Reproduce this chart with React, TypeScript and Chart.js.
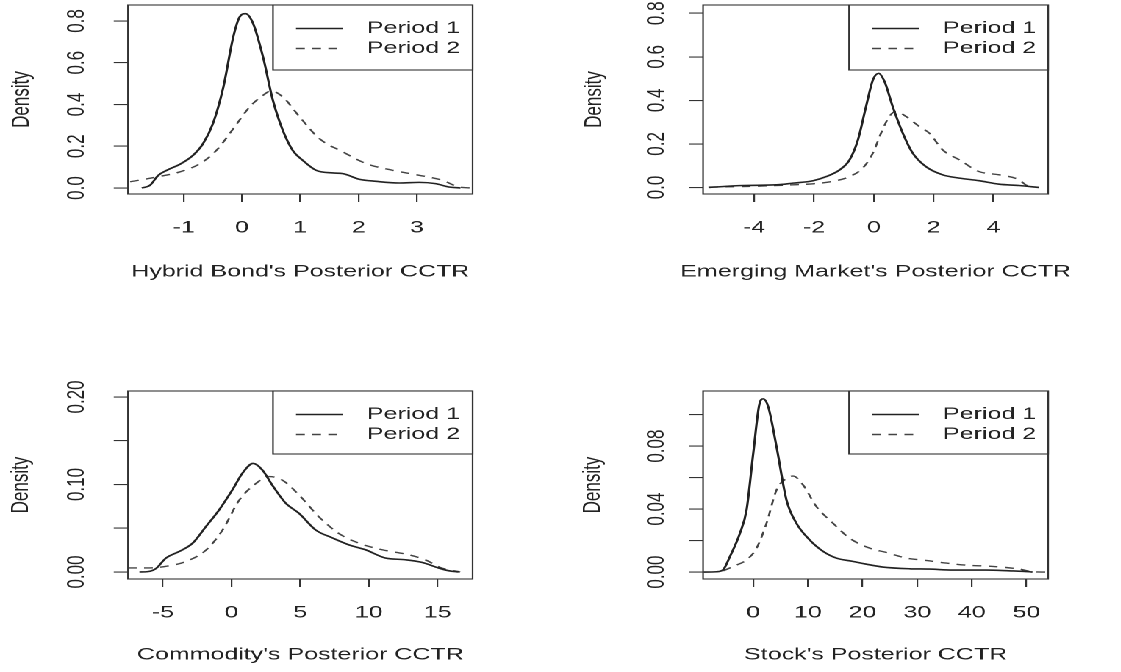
import React, { useEffect, useRef } from 'react';
import { Chart, registerables } from 'chart.js';

Chart.register(...registerables);

// ---------- data ----------
const legendLabels = ['Period 1', 'Period 2'];
const yTitle = 'Density';

const hybridTitle = "Hybrid Bond's Posterior CCTR";
const hybridTicksX = [-1, 0, 1, 2, 3];
const hybridTicksY = [0, 0.2, 0.4, 0.6, 0.8];
const hybridLabelsY = ['0.0', '0.2', '0.4', '0.6', '0.8'];
const hybridP1 = [
  [-1.72, 0], [-1.58, 0.013], [-1.44, 0.06], [-1.29, 0.085], [-1.07, 0.113], [-0.84, 0.157],
  [-0.67, 0.212], [-0.5, 0.308], [-0.32, 0.484], [-0.15, 0.724], [-0.04, 0.82], [0.06, 0.835],
  [0.19, 0.788], [0.36, 0.628], [0.53, 0.42], [0.7, 0.276], [0.87, 0.18], [1.04, 0.133],
  [1.27, 0.085], [1.56, 0.072], [1.73, 0.069], [2.01, 0.042], [2.3, 0.032], [2.7, 0.024],
  [3.04, 0.027], [3.32, 0.021], [3.55, 0.005], [3.75, 0],
];
const hybridP2 = [
  [-1.92, 0.03], [-1.46, 0.053], [-1.07, 0.077], [-0.72, 0.117], [-0.44, 0.18], [-0.15, 0.284],
  [0.13, 0.388], [0.36, 0.444], [0.5, 0.465], [0.7, 0.436], [0.99, 0.34], [1.33, 0.236],
  [1.73, 0.173], [2.13, 0.117], [2.58, 0.085], [3.04, 0.061], [3.44, 0.037], [3.72, 0.005],
  [3.95, 0],
];

const emergingTitle = "Emerging Market's Posterior CCTR";
const emergingTicksX = [-4, -2, 0, 2, 4];
const emergingTicksY = [0, 0.2, 0.4, 0.6, 0.8];
const emergingLabelsY = ['0.0', '0.2', '0.4', '0.6', '0.8'];
const emergingP1 = [
  [-5.53, 0], [-4.37, 0.009], [-3.26, 0.012], [-2.7, 0.02], [-2.03, 0.031], [-1.59, 0.05],
  [-1.14, 0.081], [-0.81, 0.127], [-0.53, 0.219], [-0.26, 0.372], [-0.03, 0.494], [0.16, 0.524],
  [0.36, 0.486], [0.63, 0.372], [0.97, 0.249], [1.3, 0.158], [1.74, 0.096], [2.3, 0.058],
  [2.86, 0.043], [3.52, 0.031], [4.19, 0.015], [4.86, 0.009], [5.52, 0],
];
const emergingP2 = [
  [-5.5, 0.002], [-4.2, 0.005], [-2.7, 0.012], [-2.03, 0.017], [-1.37, 0.028], [-0.81, 0.05],
  [-0.37, 0.089], [-0.03, 0.158], [0.24, 0.249], [0.52, 0.326], [0.74, 0.349], [1.08, 0.326],
  [1.52, 0.28], [1.86, 0.249], [2.3, 0.173], [2.86, 0.127], [3.52, 0.073], [4.19, 0.058],
  [4.86, 0.035], [5.08, 0.012], [5.3, 0],
];

const commodityTitle = "Commodity's Posterior CCTR";
const commodityTicksX = [-5, 0, 5, 10, 15];
const commodityTicksY = [0, 0.05, 0.1, 0.15, 0.2];
const commodityLabelsY = ['0.00', '', '0.10', '', '0.20'];
const commodityP1 = [
  [-6.71, 0], [-6.1, 0.0004], [-5.5, 0.004], [-4.77, 0.016], [-3.8, 0.0235], [-2.83, 0.033],
  [-1.86, 0.052], [-0.9, 0.071], [0.07, 0.094], [0.8, 0.113], [1.57, 0.124], [2.25, 0.1165],
  [2.98, 0.099], [3.95, 0.0786], [4.92, 0.067], [6.13, 0.048], [7.34, 0.039], [8.55, 0.031],
  [9.76, 0.0254], [11.2, 0.016], [12.66, 0.014], [13.87, 0.011], [15.08, 0.0046], [15.8, 0.0015],
  [16.54, 0],
];
const commodityP2 = [
  [-7.55, 0.0046], [-6.22, 0.0046], [-4.77, 0.0065], [-3.32, 0.012], [-1.86, 0.025], [-0.65, 0.048],
  [0.56, 0.082], [1.77, 0.101], [2.74, 0.109], [3.7, 0.105], [4.92, 0.088], [6.37, 0.063],
  [7.82, 0.044], [9.27, 0.033], [10.97, 0.0254], [12.9, 0.0197], [14.1, 0.014], [15.3, 0.0046],
  [16.66, 0],
];

const stockTitle = "Stock's Posterior CCTR";
const stockTicksX = [0, 10, 20, 30, 40, 50];
const stockTicksY = [0, 0.02, 0.04, 0.06, 0.08, 0.1];
const stockLabelsY = ['0.00', '', '0.04', '', '0.08', ''];
const stockP1 = [
  [-9.1, 0], [-6.7, 0.0002], [-5.5, 0.0015], [-4.26, 0.0099], [-2.43, 0.0247], [-1.22, 0.0395],
  [0, 0.0754], [1.09, 0.106], [1.82, 0.11], [2.74, 0.105], [4.26, 0.0796], [6.08, 0.0458],
  [7.9, 0.031], [10.3, 0.0205], [12.8, 0.0131], [15.2, 0.0089], [18.2, 0.0068], [21.3, 0.0046],
  [23.7, 0.0032], [28.6, 0.0021], [32.2, 0.0019], [36.5, 0.0013], [42.6, 0.0013], [46.8, 0.0008],
  [50.5, 0.0002], [51.1, 0],
];
const stockP2 = [
  [-5.5, 0.0008], [-3.65, 0.0036], [-1.22, 0.0078], [0.61, 0.0152], [2.43, 0.031], [4.26, 0.0521],
  [6.08, 0.0595], [7.3, 0.061], [9.12, 0.0553], [11.56, 0.0416], [14.6, 0.031], [17.64, 0.0215],
  [21.3, 0.0152], [24.3, 0.0125], [28.0, 0.0089], [31.6, 0.0074], [35.3, 0.0057], [38.9, 0.0044],
  [43.8, 0.0036], [48.7, 0.0019], [51.1, 0.0002], [53.5, 0],
];

// ---------- layout (reference pixel coordinates; x is stretched by S) ----------
const S = 1.47;
const PAGE_W = 1121;
const PAGE_H = 672;
const FONT = '17px "Liberation Sans", Arial, Helvetica, sans-serif';
const INK = '#222';

type Panel = {
  key: string;
  title: string;
  ticksX: number[];
  ticksY: number[];
  labelsY: string[];
  p1: number[][];
  p2: number[][];
  xRange: [number, number];
  yRange: [number, number];
  canvas: [number, number, number, number];
  box: [number, number, number, number];
  tickLabelY: number;
  titleY: number;
  yLabelX: number;
  yTitleX: number;
  legendLeft: number;
  legendBottom: number;
};

const panels: Panel[] = [
  {
    key: 'hybrid', title: hybridTitle, ticksX: hybridTicksX, ticksY: hybridTicksY, labelsY: hybridLabelsY,
    p1: hybridP1, p2: hybridP2, xRange: [-1.957, 3.957], yRange: [-0.0287, 0.8766],
    canvas: [0, 0, 560, 340], box: [128, 5, 474, 194], tickLabelY: 228, titleY: 272,
    yLabelX: 77, yTitleX: 22, legendLeft: 273, legendBottom: 70,
  },
  {
    key: 'emerging', title: emergingTitle, ticksX: emergingTicksX, ticksY: emergingTicksY, labelsY: emergingLabelsY,
    p1: emergingP1, p2: emergingP2, xRange: [-5.71, 5.83], yRange: [-0.03, 0.838],
    canvas: [560, 0, 1121, 340], box: [703, 5, 1049, 194], tickLabelY: 228, titleY: 272,
    yLabelX: 657, yTitleX: 594, legendLeft: 849, legendBottom: 70,
  },
  {
    key: 'commodity', title: commodityTitle, ticksX: commodityTicksX, ticksY: commodityTicksY, labelsY: commodityLabelsY,
    p1: commodityP1, p2: commodityP2, xRange: [-7.54, 17.56], yRange: [-0.008, 0.2068],
    canvas: [0, 340, 560, 672], box: [128, 391, 474, 579], tickLabelY: 613, titleY: 655,
    yLabelX: 77, yTitleX: 21, legendLeft: 273, legendBottom: 454,
  },
  {
    key: 'stock', title: stockTitle, ticksX: stockTicksX, ticksY: stockTicksY, labelsY: stockLabelsY,
    p1: stockP1, p2: stockP2, xRange: [-9.18, 53.96], yRange: [-0.0044, 0.115],
    canvas: [560, 340, 1121, 672], box: [703, 391, 1049, 579], tickLabelY: 613, titleY: 655,
    yLabelX: 657, yTitleX: 593, legendLeft: 849, legendBottom: 454,
  },
];

function makePlugin(p: Panel) {
  const [cx0, cy0] = p.canvas;
  const X = (rx: number) => (rx - cx0) / S;
  const Y = (ry: number) => ry - cy0;
  return {
    id: 'rstyle_' + p.key,
    afterDraw(chart: any) {
      const { ctx, chartArea: a, scales } = chart;
      const xs = scales.x;
      const ys = scales.y;
      ctx.save();
      // plot box
      ctx.strokeStyle = '#333';
      ctx.lineWidth = 1.1;
      ctx.strokeRect(a.left, a.top, a.right - a.left, a.bottom - a.top);

      ctx.fillStyle = INK;
      ctx.font = FONT;
      // x tick labels
      ctx.textAlign = 'center';
      ctx.textBaseline = 'middle';
      p.ticksX.forEach((v) => {
        ctx.fillText(String(v), xs.getPixelForValue(v), Y(p.tickLabelY));
      });
      // x title
      ctx.fillText(p.title, (a.left + a.right) / 2, Y(p.titleY));

      // y tick labels (rotated)
      p.ticksY.forEach((v, i) => {
        const lab = p.labelsY[i];
        if (!lab) return;
        ctx.save();
        ctx.translate(X(p.yLabelX), ys.getPixelForValue(v));
        ctx.rotate(-Math.PI / 2);
        ctx.fillText(lab, 0, 0);
        ctx.restore();
      });
      // y title
      ctx.save();
      ctx.translate(X(p.yTitleX), (a.top + a.bottom) / 2);
      ctx.rotate(-Math.PI / 2);
      ctx.fillText(yTitle, 0, 0);
      ctx.restore();

      // legend
      const lx0 = X(p.legendLeft);
      const ly0 = a.top;
      const ly1 = Y(p.legendBottom);
      ctx.fillStyle = '#fff';
      ctx.fillRect(lx0, ly0, a.right - lx0, ly1 - ly0);
      ctx.strokeStyle = '#333';
      ctx.lineWidth = 1.1;
      ctx.strokeRect(lx0, ly0, a.right - lx0, ly1 - ly0);
      const rowY = [ly0 + 23.5, ly0 + 43.5];
      const sx0 = lx0 + 23 / S;
      const sx1 = lx0 + 70 / S;
      const tx = lx0 + 94 / S;
      ctx.textAlign = 'left';
      ctx.fillStyle = INK;
      legendLabels.forEach((lab, i) => {
        ctx.beginPath();
        ctx.strokeStyle = i === 0 ? '#222' : '#444';
        ctx.lineWidth = 1.5;
        ctx.setLineDash(i === 0 ? [] : [6, 5]);
        ctx.moveTo(sx0, rowY[i]);
        ctx.lineTo(sx1, rowY[i]);
        ctx.stroke();
        ctx.setLineDash([]);
        ctx.fillText(lab, tx, rowY[i]);
      });
      ctx.restore();
    },
  };
}

function PanelChart({ p }: { p: Panel }) {
  const ref = useRef<HTMLCanvasElement | null>(null);
  const [cx0, cy0, cx1, cy1] = p.canvas;
  const [bx0, by0, bx1, by1] = p.box;
  const w = (cx1 - cx0) / S;
  const h = cy1 - cy0;

  useEffect(() => {
    if (!ref.current) return;
    const toPts = (arr: number[][]) => arr.map(([x, y]) => ({ x, y }));
    const chart = new Chart(ref.current, {
      type: 'line',
      data: {
        datasets: [
          {
            label: legendLabels[0],
            data: toPts(p.p1),
            borderColor: '#222',
            borderWidth: 1.6,
            pointRadius: 0,
            fill: false,
            cubicInterpolationMode: 'monotone',
          },
          {
            label: legendLabels[1],
            data: toPts(p.p2),
            borderColor: '#444',
            borderWidth: 1.4,
            borderDash: [6, 5],
            pointRadius: 0,
            fill: false,
            cubicInterpolationMode: 'monotone',
          },
        ],
      },
      options: {
        animation: false,
        responsive: false,
        devicePixelRatio: 2,
        parsing: false,
        layout: {
          padding: { top: by0 - cy0, right: (cx1 - bx1) / S, left: 0, bottom: 0 },
        },
        plugins: {
          legend: { display: false },
          tooltip: { enabled: false },
        },
        scales: {
          x: {
            type: 'linear',
            min: p.xRange[0],
            max: p.xRange[1],
            afterBuildTicks: (s: any) => {
              s.ticks = p.ticksX.map((v) => ({ value: v }));
            },
            afterFit: (s: any) => {
              s.height = cy1 - by1;
            },
            ticks: { display: false },
            grid: { drawOnChartArea: false, drawTicks: true, tickLength: 8, color: '#333', lineWidth: 1.1 },
            border: { display: false },
          },
          y: {
            type: 'linear',
            min: p.yRange[0],
            max: p.yRange[1],
            afterBuildTicks: (s: any) => {
              s.ticks = p.ticksY.map((v) => ({ value: v }));
            },
            afterFit: (s: any) => {
              s.width = (bx0 - cx0) / S;
            },
            ticks: { display: false },
            grid: { drawOnChartArea: false, drawTicks: true, tickLength: 9.7, color: '#333', lineWidth: 1.1 },
            border: { display: false },
          },
        },
      } as any,
      plugins: [makePlugin(p)],
    });
    return () => chart.destroy();
  }, [p]);

  return (
    <canvas
      ref={ref}
      width={w}
      height={h}
      style={{ position: 'absolute', left: cx0 / S, top: cy0 }}
    />
  );
}

export default function App() {
  return (
    <div
      style={{
        position: 'absolute',
        left: 0,
        top: 0,
        width: PAGE_W / S,
        height: PAGE_H,
        transform: `scaleX(${S})`,
        transformOrigin: '0 0',
        background: '#fff',
        overflow: 'visible',
      }}
    >
      {panels.map((p) => (
        <PanelChart key={p.key} p={p} />
      ))}
    </div>
  );
}
